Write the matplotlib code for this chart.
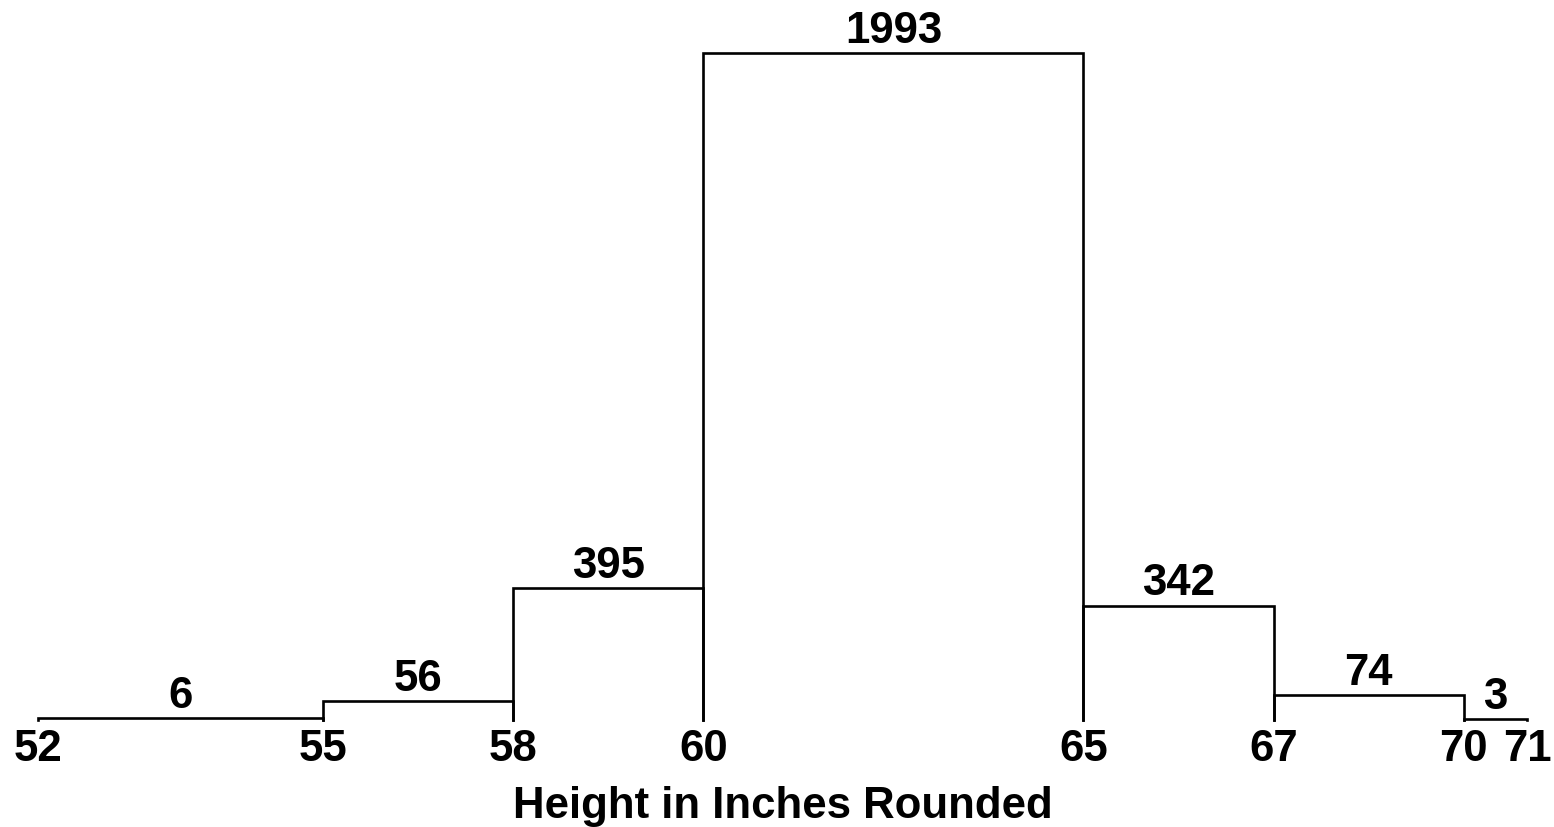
import matplotlib
matplotlib.use("Agg")
import matplotlib.pyplot as plt

# Data
edge_labels = ["52", "55", "58", "60", "65", "67", "70", "71"]
counts = [6, 56, 395, 1993, 342, 74, 3]
# display widths of each class interval (as drawn in the original, not to scale)
display_widths = [4.5, 3, 3, 6, 3, 3, 1]
xlabel = "Height in Inches Rounded"

plt.rcParams['font.family'] = ['Liberation Sans', 'DejaVu Sans']
FS = 31.5

fig = plt.figure(figsize=(15.54, 8.28), dpi=100)
ax = fig.add_axes([38/1554, (828-721)/828, 1489/1554, 667/828])

edges = [0.0]
for w in display_widths:
    edges.append(edges[-1] + w)

for i, c in enumerate(counts):
    l, r = edges[i], edges[i+1]
    ax.plot([l, l, r, r], [0, c, c, 0], color='black', lw=1.9,
            solid_joinstyle='miter', clip_on=False)
    ax.annotate(str(c), xy=((l + r) / 2, c), xytext=(0, 8),
                textcoords='offset points', ha='center', va='baseline',
                fontsize=FS, fontweight='bold', annotation_clip=False)

ax.set_xlim(edges[0], edges[-1])
ax.set_ylim(0, max(counts))
ax.set_xticks(edges, labels=edge_labels)
ax.tick_params(axis='x', length=0, pad=6, labelsize=FS)
for lab in ax.get_xticklabels():
    lab.set_fontweight('bold')
ax.set_yticks([])
for s in ax.spines.values():
    s.set_visible(False)
ax.set_xlabel(xlabel, fontsize=FS, fontweight='bold', labelpad=11)

fig.savefig("out.png", dpi=100, facecolor='white')
